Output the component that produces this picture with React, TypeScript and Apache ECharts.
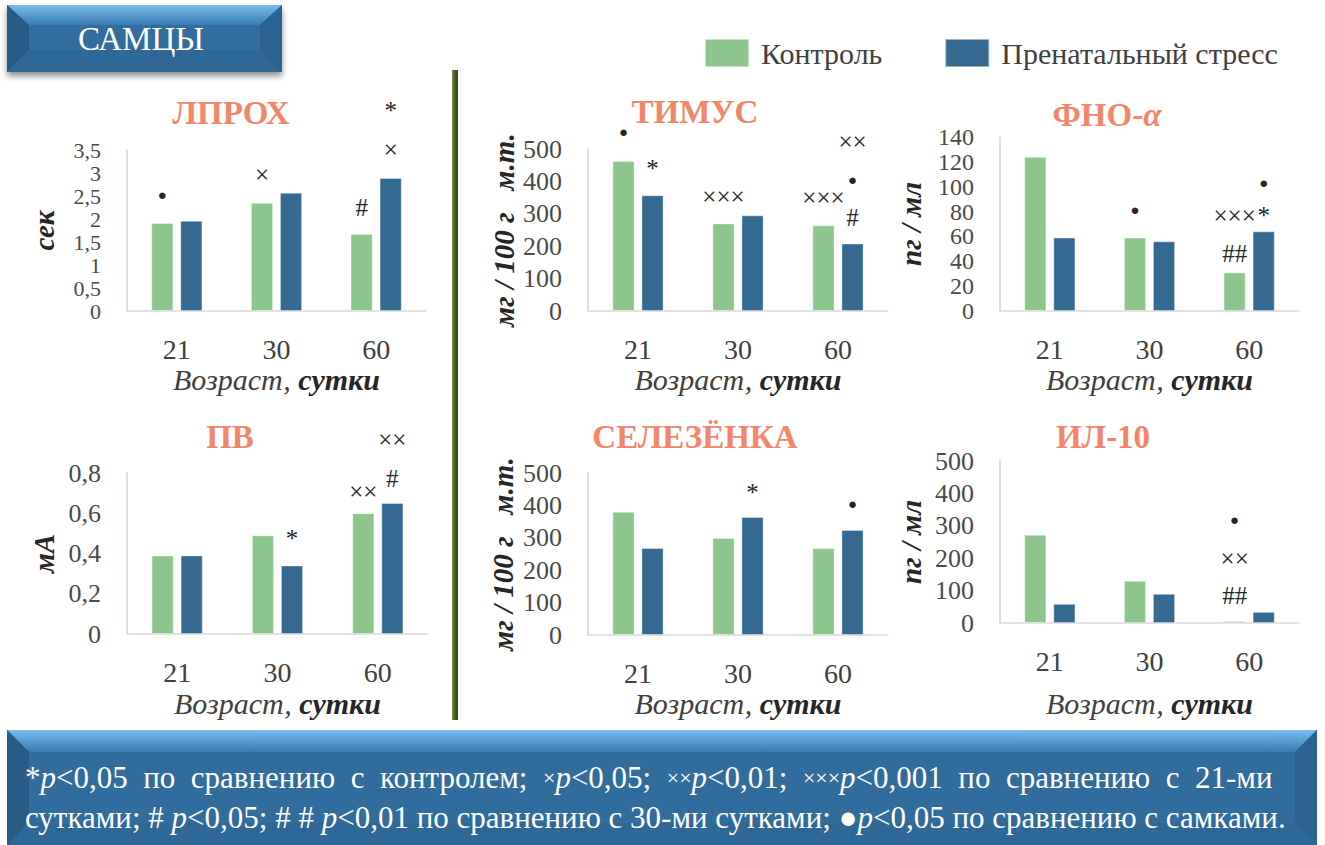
import React, { useEffect, useRef } from 'react';
import * as echarts from 'echarts';

const FONT = 'Times New Roman';
const GREEN = '#8DC68D';
const BLUE = '#346A92';
const TITLE_COLOR = '#F2856A';
const MARK_COLOR = '#262626';

const categories = ['21', '30', '60'];
const seriesNames = ['Контроль', 'Пренатальный стресс'];

// ЛПРОХ, сек
const lprohControl = [1.91, 2.35, 1.67];
const lprohStress = [1.96, 2.57, 2.89];
// ТИМУС, мг / 100 г м.т.
const thymusControl = [463, 270, 264];
const thymusStress = [357, 295, 208];
// ФНО-α, пг / мл
const tnfControl = [124, 59, 31];
const tnfStress = [59, 56, 64];
// ПВ, мА
const pvControl = [0.39, 0.49, 0.6];
const pvStress = [0.39, 0.34, 0.65];
// СЕЛЕЗЁНКА, мг / 100 г м.т.
const spleenControl = [380, 299, 268];
const spleenStress = [268, 364, 324];
// ИЛ-10, пг / мл
const il10Control = [272, 130, 6];
const il10Stress = [59, 90, 34];

// significance marks: [series (0 control, 1 stress), category index, text, lift above bar top in px]
type Mark = [number, number, string, number];
const lprohMarks: Mark[] = [[0, 0, '●', 28], [0, 1, '×', 28], [0, 2, '#', 27], [1, 2, '×', 29], [1, 2, '*', 68]];
const thymusMarks: Mark[] = [[0, 0, '●', 29], [1, 0, '*', 27], [0, 1, '×××', 27], [0, 2, '×××', 28], [1, 2, '××', 102], [1, 2, '●', 64], [1, 2, '#', 26]];
const tnfMarks: Mark[] = [[0, 1, '●', 28], [1, 2, '●', 48], [0, 2, '×××', 57], [1, 2, '*', 16], [0, 2, '##', 19]];
const pvMarks: Mark[] = [[1, 1, '*', 27], [0, 2, '××', 22], [1, 2, '#', 25], [1, 2, '××', 64]];
const spleenMarks: Mark[] = [[1, 1, '*', 25], [1, 2, '●', 26]];
const il10Marks: Mark[] = [[0, 2, '●', 101], [0, 2, '××', 63], [0, 2, '##', 26]];

const panels = [
  { title: '{t|ЛПРОХ}', tx: 231, ty: 113, yName: 'сек', control: lprohControl, stress: lprohStress, max: 3.5, interval: 0.5, tick: 22, marks: lprohMarks, grid: { left: 127, top: 150, width: 299, height: 161 }, yGap: 69, xGap: 53 },
  { title: '{t|ТИМУС}', tx: 695, ty: 112, yName: 'мг / 100 г   м.т.', control: thymusControl, stress: thymusStress, max: 500, interval: 100, tick: 26, marks: thymusMarks, grid: { left: 588, top: 149, width: 300, height: 162 }, yGap: 70, xGap: 53 },
  { title: '{t|ФНО-}{a|α}', tx: 1107, ty: 115, yName: 'пг / мл', control: tnfControl, stress: tnfStress, max: 140, interval: 20, tick: 24, marks: tnfMarks, grid: { left: 1000, top: 137, width: 299, height: 174 }, yGap: 75, xGap: 53 },
  { title: '{t|ПВ}', tx: 230, ty: 437, yName: 'мА', control: pvControl, stress: pvStress, max: 0.8, interval: 0.2, tick: 26, marks: pvMarks, grid: { left: 127, top: 473, width: 301, height: 161 }, yGap: 69, xGap: 54 },
  { title: '{t|СЕЛЕЗЁНКА}', tx: 695, ty: 437, yName: 'мг / 100 г   м.т.', control: spleenControl, stress: spleenStress, max: 500, interval: 100, tick: 26, marks: spleenMarks, grid: { left: 588, top: 473, width: 300, height: 162 }, yGap: 71, xGap: 53 },
  { title: '{t|ИЛ-10}', tx: 1103, ty: 437, yName: 'пг / мл', control: il10Control, stress: il10Stress, max: 500, interval: 100, tick: 26, marks: il10Marks, grid: { left: 1000, top: 461, width: 299, height: 162 }, yGap: 75, xGap: 65 },
];

function bevelBox(x: number, y: number, w: number, h: number, b: number, top: number, shadow: boolean) {
  const x2 = x + w;
  const y2 = y + h;
  return [
    { type: 'rect', z: 1, shape: { x, y, width: w, height: h },
      style: shadow ? { fill: '#306D9D', shadowBlur: 6, shadowOffsetY: 4, shadowColor: 'rgba(0,0,0,0.45)' } : { fill: '#306D9D' } },
    { type: 'polygon', z: 2, shape: { points: [[x, y], [x2, y], [x2 - b, y + top], [x + b, y + top]] },
      style: { fill: new echarts.graphic.LinearGradient(0, 0, 0, 1, [{ offset: 0, color: '#78BBEC' }, { offset: 1, color: '#3A7CB0' }]) } },
    { type: 'polygon', z: 2, shape: { points: [[x, y], [x + b, y + top], [x + b, y2 - b], [x, y2]] }, style: { fill: '#285C87' } },
    { type: 'polygon', z: 2, shape: { points: [[x2, y], [x2, y2], [x2 - b, y2 - b], [x2 - b, y + top]] }, style: { fill: '#2B6390' } },
    { type: 'polygon', z: 2, shape: { points: [[x, y2], [x + b, y2 - b], [x2 - b, y2 - b], [x2, y2]] }, style: { fill: '#2E6896' } },
  ];
}

export default function App() {
  const ref = useRef<HTMLDivElement>(null);

  useEffect(() => {
    if (!ref.current) return;
    const chart = echarts.init(ref.current, undefined, { renderer: 'svg' });
    const grids: any[] = [];
    const xAxes: any[] = [];
    const yAxes: any[] = [];
    const series: any[] = [];
    const graphics: any[] = [];

    panels.forEach((p, gi) => {
      grids.push({ ...p.grid, containLabel: false, outerBoundsMode: 'none' });
      xAxes.push({
        type: 'category', gridIndex: gi, data: categories,
        axisTick: { show: false },
        axisLine: { lineStyle: { color: '#D9D9D9', width: 1.5 } },
        axisLabel: { fontFamily: FONT, fontSize: 28, color: '#404040', margin: 24 },
        name: '{a|Возраст, }{b|сутки}', nameLocation: 'middle', nameGap: p.xGap,
        nameTextStyle: {
          fontFamily: FONT,
          rich: {
            a: { fontFamily: FONT, fontSize: 30, fontStyle: 'italic', color: '#404040' },
            b: { fontFamily: FONT, fontSize: 30, fontStyle: 'italic', fontWeight: 'bold', color: '#262626' },
          },
        },
      });
      yAxes.push({
        type: 'value', gridIndex: gi, min: 0, max: p.max, interval: p.interval,
        splitLine: { show: false }, axisTick: { show: false },
        axisLine: { show: true, lineStyle: { color: '#DAD5BC', width: 1.5 } },
        axisLabel: {
          fontFamily: FONT, fontSize: p.tick, color: '#4A4A4A', margin: 26,
          showMinLabel: true, showMaxLabel: true, hideOverlap: false,
          formatter: (v: number) => String(Math.round(v * 100) / 100).replace('.', ','),
        },
        name: p.yName, nameLocation: 'middle', nameRotate: 90, nameGap: p.yGap,
        nameTextStyle: { fontFamily: FONT, fontSize: 29, fontStyle: 'italic', fontWeight: 'bold', color: '#262626' },
      });
      [p.control, p.stress].forEach((vals, si) => {
        series.push({
          type: 'bar', name: seriesNames[si], xAxisIndex: gi, yAxisIndex: gi, data: vals,
          barWidth: 22, barGap: '32%',
          itemStyle: { color: si === 0 ? GREEN : BLUE, borderColor: 'rgba(255,255,255,0.5)', borderWidth: 0.8 },
          markPoint: {
            symbol: 'circle', symbolSize: 1, itemStyle: { color: 'rgba(0,0,0,0)' },
            label: { show: true, position: 'inside', formatter: '{b}', color: MARK_COLOR, fontFamily: FONT, fontSize: 25 },
            data: p.marks.filter((m) => m[0] === si).map((m) => ({
              name: m[2], coord: [categories[m[1]], vals[m[1]]],
              label: { offset: [0, -m[3]], fontSize: m[2] === '●' ? 15 : 25 },
            })),
          },
        });
      });
      graphics.push({
        type: 'text', z: 10,
        style: {
          x: p.tx, y: p.ty, text: p.title, fontFamily: FONT,
          textAlign: 'center', textVerticalAlign: 'middle', align: 'center', verticalAlign: 'middle',
          rich: {
            t: { fontFamily: FONT, fontSize: 33, fontWeight: 'bold', fill: TITLE_COLOR, color: TITLE_COLOR },
            a: { fontFamily: FONT, fontSize: 33, fontWeight: 'bold', fontStyle: 'italic', fill: TITLE_COLOR, color: TITLE_COLOR },
          },
        },
      });
    });

    // header box
    graphics.push(...bevelBox(7, 5, 275, 67, 22, 20, true));
    graphics.push({ type: 'text', z: 5, style: { x: 141, y: 39, text: 'САМЦЫ', fill: '#FFFFFF', fontFamily: FONT, fontSize: 33,
      textAlign: 'center', textVerticalAlign: 'middle', align: 'center', verticalAlign: 'middle' } });

    // divider
    graphics.push({
      type: 'rect', z: 1, shape: { x: 452, y: 70, width: 6, height: 650 },
      style: { fill: new echarts.graphic.LinearGradient(0, 0, 1, 0, [
        { offset: 0, color: '#7D9A45' }, { offset: 0.35, color: '#4F6228' }, { offset: 1, color: '#34421A' }]) },
    });

    // footer box
    graphics.push(...bevelBox(7, 730, 1310, 115, 22, 22, false));
    const footRich = {
      n: { fontFamily: FONT, fontSize: 31, fill: '#FFFFFF', color: '#FFFFFF' },
      i: { fontFamily: FONT, fontSize: 31, fontStyle: 'italic', fill: '#FFFFFF', color: '#FFFFFF' },
      s: { fontFamily: FONT, fontSize: 22, fill: '#FFFFFF', color: '#FFFFFF' },
    };
    graphics.push({ type: 'text', z: 5, style: { x: 25, y: 777, fontFamily: FONT,
      text: '{n|*}{i|p}{n|<0,05  по  сравнению  с  контролем;  }{s|×}{i|p}{n|<0,05;  }{s|××}{i|p}{n|<0,01;  }{s|×××}{i|p}{n|<0,001  по  сравнению  с  21-ми}',
      textAlign: 'left', textVerticalAlign: 'middle', align: 'left', verticalAlign: 'middle', rich: footRich } });
    graphics.push({ type: 'text', z: 5, style: { x: 25, y: 817, fontFamily: FONT,
      text: '{n|сутками; # }{i|p}{n|<0,05; # # }{i|p}{n|<0,01 по сравнению с 30-ми сутками; ●}{i|p}{n|<0,05 по сравнению с самками.}',
      textAlign: 'left', textVerticalAlign: 'middle', align: 'left', verticalAlign: 'middle', rich: footRich } });

    chart.setOption({
      animation: false,
      backgroundColor: '#FFFFFF',
      textStyle: { fontFamily: FONT },
      legend: {
        data: seriesNames, left: 699, top: 33, itemWidth: 44, itemHeight: 28, itemGap: 62, icon: 'rect', selectedMode: false,
        textStyle: { fontFamily: FONT, fontSize: 30, color: '#404040', padding: [0, 0, 0, 7] },
      },
      grid: grids, xAxis: xAxes, yAxis: yAxes, series,
      graphic: { elements: graphics },
    });
    return () => chart.dispose();
  }, []);

  return <div ref={ref} style={{ position: 'absolute', left: 0, top: 0, width: 1325, height: 845 }} />;
}
